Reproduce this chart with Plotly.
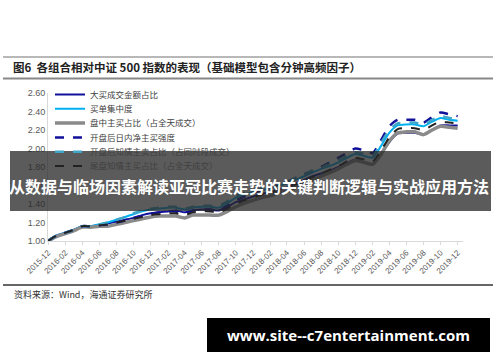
import plotly.graph_objects as go
import pandas as pd

months = pd.date_range("2015-12-01", periods=49, freq="MS")

names = ["大买成交金额占比", "买单集中度", "盘中主买占比（占全天成交）",
         "开盘后日内净主买强度", "开盘后知情主卖占比（占同时段成交）", "尾盘知情主买占比（占全天成交）"]

s1 = [1.00,1.06,1.09,1.12,1.16,1.16,1.17,1.19,1.21,1.23,1.25,1.28,1.30,1.31,1.32,1.33,1.31,1.33,1.34,1.34,
      1.33,1.37,1.42,1.45,1.48,1.51,1.53,1.56,1.58,1.62,1.66,1.70,1.73,1.76,1.80,1.84,1.88,1.85,1.83,1.93,
      2.07,2.16,2.17,2.17,2.15,2.20,2.25,2.25,2.25]
s2 = [1.00,1.06,1.09,1.12,1.16,1.16,1.18,1.20,1.23,1.26,1.29,1.32,1.34,1.35,1.36,1.36,1.34,1.36,1.37,1.37,
      1.36,1.41,1.47,1.50,1.53,1.55,1.57,1.60,1.62,1.66,1.70,1.74,1.78,1.81,1.85,1.90,1.94,1.92,1.90,2.02,
      2.17,2.25,2.26,2.26,2.24,2.29,2.33,2.31,2.30]
s3 = [1.00,1.05,1.08,1.11,1.15,1.15,1.16,1.16,1.18,1.20,1.22,1.24,1.26,1.27,1.27,1.27,1.25,1.28,1.28,1.28,
      1.28,1.32,1.37,1.41,1.44,1.47,1.49,1.52,1.54,1.58,1.62,1.66,1.70,1.74,1.78,1.83,1.87,1.85,1.83,1.93,
      2.08,2.17,2.18,2.18,2.15,2.20,2.24,2.23,2.22]
s4 = [1.00,1.06,1.09,1.12,1.16,1.16,1.17,1.18,1.20,1.22,1.25,1.27,1.29,1.31,1.32,1.32,1.30,1.33,1.34,1.34,
      1.33,1.38,1.44,1.48,1.52,1.55,1.58,1.61,1.64,1.68,1.72,1.76,1.80,1.85,1.90,1.95,2.00,1.98,1.95,2.08,
      2.24,2.31,2.31,2.31,2.28,2.34,2.39,2.37,2.35]
s5 = [1.00,1.06,1.09,1.12,1.16,1.16,1.18,1.20,1.23,1.26,1.30,1.33,1.35,1.36,1.37,1.37,1.35,1.37,1.38,1.38,
      1.38,1.43,1.49,1.52,1.55,1.57,1.59,1.62,1.64,1.68,1.72,1.76,1.79,1.83,1.87,1.92,1.96,1.94,1.92,2.05,
      2.20,2.27,2.28,2.28,2.26,2.31,2.35,2.33,2.31]
s6 = [1.00,1.06,1.09,1.12,1.16,1.16,1.17,1.18,1.20,1.22,1.24,1.26,1.28,1.29,1.30,1.30,1.28,1.31,1.32,1.32,
      1.31,1.35,1.40,1.44,1.47,1.50,1.52,1.55,1.57,1.61,1.65,1.69,1.73,1.77,1.81,1.86,1.90,1.88,1.86,1.97,
      2.12,2.21,2.22,2.22,2.20,2.25,2.29,2.28,2.27]

series = [s1, s2, s3, s4, s5, s6]
styles = [
    dict(color="#10109a", width=2, dash="solid"),
    dict(color="#00b0f0", width=2, dash="solid"),
    dict(color="#8a8a8a", width=3.5, dash="solid"),
    dict(color="#10109a", width=2.5, dash="dash"),
    dict(color="#3fa6c8", width=2.5, dash="dash"),
    dict(color="#222222", width=2, dash="dash"),
]

L, T, R, B = 48, 93, 463, 241
W, H = 500, 362
def px(x): return (x - L) / (R - L)
def py(y): return (B - y) / (B - T)

legend_ids = ["legend", "legend2", "legend3", "legend4", "legend5", "legend6"]

fig = go.Figure()
for i in range(6):
    fig.add_trace(go.Scatter(x=months, y=series[i], name=names[i], mode="lines",
                             legend=legend_ids[i],
                             line=dict(shape="spline", smoothing=0.6, **styles[i])))

legend_layouts = {}
for i, lid in enumerate(legend_ids):
    legend_layouts[lid] = dict(x=px(50), y=py(94.5 + 14.3 * i), xanchor="left", yanchor="middle",
                               bgcolor="rgba(0,0,0,0)", borderwidth=0,
                               font=dict(size=8.5, color="#404040", family="Noto Sans CJK SC"))

fig.update_layout(
    width=W, height=H,
    margin=dict(l=L, r=W - R, t=T, b=H - B, pad=0),
    paper_bgcolor="white", plot_bgcolor="white",
    font=dict(family="Noto Sans CJK SC, Noto Sans, sans-serif", color="#595959"),
    showlegend=True,
    xaxis=dict(type="date", range=["2015-12-01", "2019-12-20"], dtick="M2", tick0="2015-12-01",
               tickformat="%Y-%m", tickangle=-45, tickfont=dict(size=8, family="Liberation Sans, Arial", color="#595959"),
               showgrid=False, showline=True, linecolor="#d9d9d9", linewidth=1,
               ticks="outside", ticklen=3, tickcolor="#d9d9d9", zeroline=False),
    yaxis=dict(range=[1.0, 2.6], dtick=0.2, tick0=1.0, tickformat=".2f",
               tickfont=dict(size=9, family="Liberation Sans, Arial", color="#595959"),
               showgrid=False, showline=True, linecolor="#d9d9d9", linewidth=1, ticks="", zeroline=False),
    **legend_layouts,
)

shapes = [
    dict(type="line", xref="paper", yref="paper", x0=px(3), x1=px(493), y0=py(57), y1=py(57),
         line=dict(color="#a0a0a0", width=1.5)),
    dict(type="line", xref="paper", yref="paper", x0=px(3), x1=px(493), y0=py(78.5), y1=py(78.5),
         line=dict(color="#888888", width=2)),
    dict(type="line", xref="paper", yref="paper", x0=px(3), x1=px(493), y0=py(285), y1=py(285),
         line=dict(color="#333333", width=1.5)),
    dict(type="rect", xref="paper", yref="paper", x0=px(10), x1=px(491), y0=py(151), y1=py(211),
         fillcolor="rgba(40,40,40,0.76)", line=dict(width=0), layer="above"),
    dict(type="rect", xref="paper", yref="paper", x0=px(207), x1=px(490), y0=py(318), y1=py(352),
         fillcolor="#000000", line=dict(width=0), layer="above"),
]
fig.update_layout(shapes=shapes)

ann = [
    dict(text="<b>图6  各组合相对中证 500 指数的表现（基础模型包含分钟高频因子）</b>",
         x=px(11), y=py(67.5), xanchor="left", yanchor="middle",
         font=dict(size=11.5, color="#222222", family="Noto Sans CJK SC")),
    dict(text="资料来源：Wind，海通证券研究所", x=px(12), y=py(294), xanchor="left", yanchor="middle",
         font=dict(size=9, color="#333333", family="Noto Sans CJK SC")),
    dict(text="<b>从数据与临场因素解读亚冠比赛走势的关键判断逻辑与实战应用方法</b>",
         x=px(249), y=py(186), xanchor="center", yanchor="middle",
         font=dict(size=16, color="white", family="Noto Sans CJK SC")),
    dict(text="<b>www.site--c7entertainment.com</b>", x=px(348), y=py(335), xanchor="center", yanchor="middle",
         font=dict(size=15, color="white", family="Open Sans, Noto Sans, sans-serif")),
]
for a in ann:
    a.update(xref="paper", yref="paper", showarrow=False)
fig.update_layout(annotations=ann)

fig.write_html("out.html", config={"displayModeBar": False},
               post_script="document.body.style.margin='0';document.body.style.overflow='hidden';")
